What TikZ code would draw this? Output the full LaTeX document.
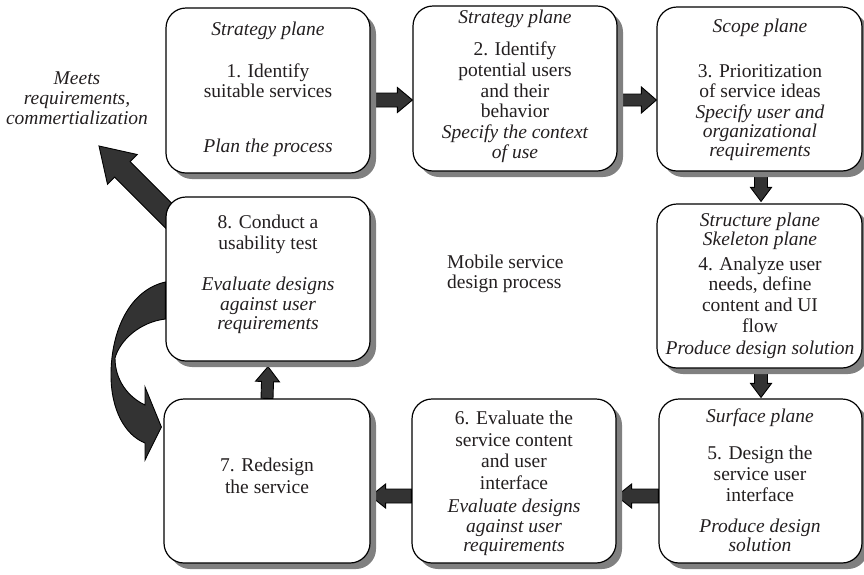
\documentclass[tikz,border=0pt]{standalone}
\usepackage{fontspec}
\setmainfont{Liberation Serif}
\usetikzlibrary{calc,shadows}
\pgfdeclarelayer{background}
\pgfsetlayers{background,main}
\definecolor{arrowgray}{HTML}{333333}
\definecolor{inkgray}{HTML}{231F20}
% block arrow from #1 to tip #2: shaft half width #3, head half width #4, head length #5
\newcommand\blockarr[5]{%
  \coordinate (ba-h) at ($(#2)!#5!(#1)$);
  \filldraw[blockfill] ($(#1)!#3!90:(#2)$) -- ($(ba-h)!#3!-90:(#1)$)
    -- ($(ba-h)!#4!-90:(#1)$) -- (#2) -- ($(ba-h)!#4!90:(#1)$)
    -- ($(ba-h)!#3!90:(#1)$) -- ($(#1)!#3!-90:(#2)$) -- cycle;
}
\begin{document}
\begin{tikzpicture}[x=1pt,y=-1pt,
  stage/.style={draw=black, line width=1.2pt, fill=white, rounded corners=20pt,
    minimum width=204pt, minimum height=165pt, inner sep=0pt,
    drop shadow={shadow xshift=6pt,shadow yshift=-6pt,fill=black!50,opacity=1}},
  tx/.style={anchor=base, inner sep=0pt, text=inkgray, font=\fontsize{19.5}{20}\selectfont},
  itx/.style={tx, font=\fontsize{19.5}{20}\selectfont\itshape},
  blockfill/.style={fill=arrowgray, draw=black, line width=0.9pt, line join=miter}]
\useasboundingbox (0,0) rectangle (864,574);

% process stages
\node[stage] (n1) at (268,90.5) {};
\node[stage] (n2) at (515,88.5) {};
\node[stage, minimum width=205pt, minimum height=164pt] (n3) at (759.5,89) {};
\node[stage, minimum width=205pt, minimum height=164pt] (n4) at (759.5,286) {};
\node[stage, minimum width=203pt, minimum height=164pt] (n5) at (760.5,481) {};
\node[stage, minimum height=164pt] (n6) at (514,481) {};
\node[stage, minimum width=206pt, minimum height=164pt] (n7) at (267,481) {};
\node[stage, minimum height=164pt] (n8) at (268,279) {};

% stage 1
\node[itx] (t1a) at (268,35) {Strategy plane};
\node[tx]  (t1b) at (268,77) {1. Identify};
\node[tx]  (t1c) at (268,97) {suitable services};
\node[itx] (t1d) at (268,152) {Plan the process};
% stage 2
\node[itx] (t2a) at (515,23) {Strategy plane};
\node[tx]  (t2b) at (515,55) {2. Identify};
\node[tx]  (t2c) at (515,76) {potential users};
\node[tx]  (t2d) at (515,97) {and their};
\node[tx]  (t2e) at (515,117) {behavior};
\node[itx] (t2f) at (515,138) {Specify the context};
\node[itx] (t2g) at (515,158) {of use};
% stage 3
\node[itx] (t3a) at (760,32) {Scope plane};
\node[tx]  (t3b) at (760,77) {3. Prioritization};
\node[tx]  (t3c) at (760,97) {of service ideas};
\node[itx] (t3d) at (760,118) {Specify user and};
\node[itx] (t3e) at (760,137) {organizational};
\node[itx] (t3f) at (760,156) {requirements};
% stage 4
\node[itx] (t4a) at (760,226) {Structure plane};
\node[itx] (t4b) at (760,245) {Skeleton plane};
\node[tx]  (t4c) at (760,270) {4. Analyze user};
\node[tx]  (t4d) at (760,290) {needs, define};
\node[tx]  (t4e) at (760,311) {content and UI};
\node[tx]  (t4f) at (760,332) {flow};
\node[itx] (t4g) at (760,354) {Produce design solution};
% stage 5
\node[itx] (t5a) at (760,422) {Surface plane};
\node[tx]  (t5b) at (760,459) {5. Design the};
\node[tx]  (t5c) at (760,480) {service user};
\node[tx]  (t5d) at (760,501) {interface};
\node[itx] (t5e) at (760,532) {Produce design};
\node[itx] (t5f) at (760,551) {solution};
% stage 6
\node[tx]  (t6a) at (514,424) {6. Evaluate the};
\node[tx]  (t6b) at (514,446) {service content};
\node[tx]  (t6c) at (514,467) {and user};
\node[tx]  (t6d) at (514,489) {interface};
\node[itx] (t6e) at (514,512) {Evaluate designs};
\node[itx] (t6f) at (514,532) {against user};
\node[itx] (t6g) at (514,551) {requirements};
% stage 7
\node[tx]  (t7a) at (267,471) {7. Redesign};
\node[tx]  (t7b) at (267,493) {the service};
% stage 8
\node[tx]  (t8a) at (268,228) {8. Conduct a};
\node[tx]  (t8b) at (268,249) {usability test};
\node[itx] (t8c) at (268,290) {Evaluate designs};
\node[itx] (t8d) at (268,310) {against user};
\node[itx] (t8e) at (268,329) {requirements};

% outcome and title
\node[itx] (m1) at (77,84) {Meets};
\node[itx] (m2) at (77,104) {requirements,};
\node[itx] (m3) at (77,124) {commertialization};
\node[tx, anchor=base west] (ttl1) at (447,268) {Mobile service};
\node[tx, anchor=base west] (ttl2) at (447,288) {design process};

\begin{pgfonlayer}{background}
  \coordinate (a1s) at (n1.east |- 0,100);
  \coordinate (a1e) at (n2.west |- 0,100);
  \blockarr{a1s}{a1e}{7pt}{12.5pt}{15pt}
  \coordinate (a2s) at (n2.east |- 0,100);
  \coordinate (a2e) at (n3.west |- 0,100);
  \blockarr{a2s}{a2e}{6pt}{13pt}{15pt}
  \coordinate (a3s) at ($(n3.south)+(1.5,0)$);
  \coordinate (a3e) at ($(n4.north)+(1.5,-2)$);
  \blockarr{a3s}{a3e}{6.5pt}{10.5pt}{14pt}
  \coordinate (a4s) at ($(n4.south)+(1.5,0)$);
  \coordinate (a4e) at ($(n5.north)+(0.5,-1)$);
  \blockarr{a4s}{a4e}{6.5pt}{10.5pt}{14pt}
  \coordinate (a5s) at (n5.west |- 0,496);
  \coordinate (a5e) at (n6.east |- 0,496);
  \blockarr{a5s}{a5e}{7pt}{12pt}{15pt}
  \coordinate (a6s) at (n6.west |- 0,496);
  \coordinate (a6e) at (n7.east |- 0,496);
  \blockarr{a6s}{a6e}{7pt}{12pt}{15pt}
  \coordinate (a7s) at (n7.north);
  \coordinate (a7e) at ($(n8.south)+(0,5)$);
  \blockarr{a7s}{a7e}{6pt}{12pt}{15pt}
  % exit towards the outcome
  \coordinate (a8s) at ($(n8.north west)+(14,30)$);
  \coordinate (meets) at (99,146);
  \blockarr{a8s}{meets}{11pt}{21pt}{33pt}
  % loop from usability test back to redesign
  \filldraw[blockfill] ($(n8.west)+(0,3)$) .. controls (130,290) and (111,330) .. (111,375)
    .. controls (111,410) and (125,435) .. (145,443) -- (145,460)
    -- ($(n7.west)+(-2,-54)$) -- (145,387) -- (145,405)
    .. controls (128,397) and (115,380) .. (115,358)
    .. controls (120,340) and (140,322) .. ($(n8.west)+(0,40)$) -- cycle;
\end{pgfonlayer}
\end{tikzpicture}
\end{document}
